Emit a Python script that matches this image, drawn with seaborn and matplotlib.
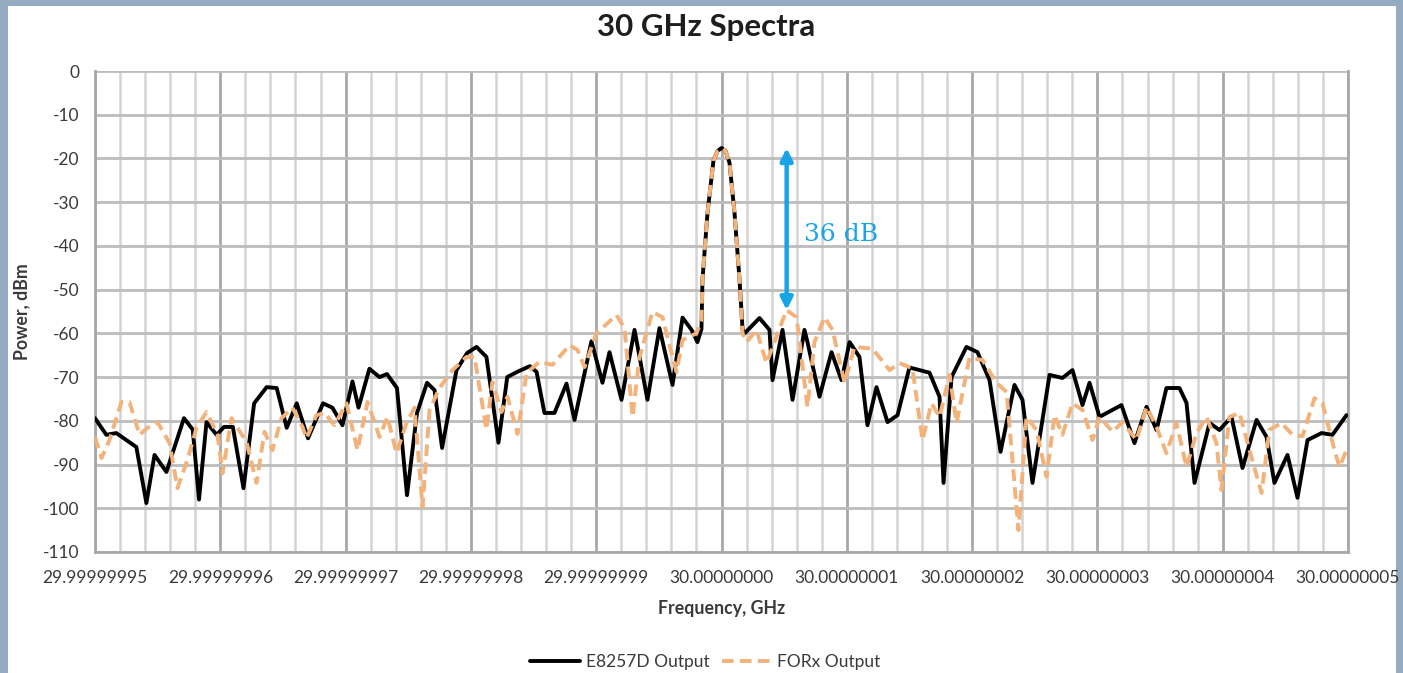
import numpy as np
import pandas as pd
import matplotlib
matplotlib.use("Agg")
import matplotlib.pyplot as plt
from matplotlib.patches import Rectangle
import seaborn as sns

# ---- data (frequency offset from 30 GHz in Hz, power in dBm) ----
e8257d_freq = [-50.0, -49.1, -48.3, -47.5, -46.7, -45.9, -45.25, -44.3, -42.9, -42.2, -41.7, -41.1,
               -40.3, -39.7, -39.0, -38.15, -37.3, -36.3, -35.5, -34.7, -33.9, -33.0, -31.8, -31.05,
               -30.25, -29.45, -28.97, -28.1, -27.3, -26.7, -25.9, -25.1, -24.3, -23.5, -22.9, -22.3,
               -21.15, -20.3, -19.55, -18.76, -17.8, -17.1, -16.3, -15.3, -14.76, -14.13, -13.33, -12.37,
               -11.73, -10.38, -9.5, -8.94, -7.98, -6.94, -5.91, -4.95, -3.91, -3.11, -2.39, -1.92,
               -1.6, -1.52, -1.12, -0.64, -0.32, 0.0, 0.32, 0.64, 1.04, 1.44, 1.68, 1.84, 3.03, 3.83,
               4.07, 4.87, 5.67, 6.62, 6.86, 7.82, 8.78, 9.58, 10.22, 11.01, 11.65, 12.37, 13.25, 14.05,
               15.0, 16.6, 17.4, 17.72, 18.36, 19.55, 20.43, 21.39, 22.27, 23.38, 24.02, 24.82, 26.18,
               27.21, 28.01, 28.81, 29.37, 30.17, 31.21, 31.92, 32.96, 33.92, 34.72, 35.51, 36.55,
               37.11, 37.75, 38.95, 39.74, 40.7, 41.58, 42.7, 43.5, 44.13, 45.17, 45.97, 46.77,
               47.89, 48.76, 49.88]
e8257d_power = [-79.4, -83.2, -82.8, -84.4, -86.0, -98.8, -87.8, -91.7, -79.4, -82.0, -98.0, -80.3,
                -83.2, -81.4, -81.4, -95.4, -76.0, -72.3, -72.5, -81.6, -76.0, -84.0, -76.0, -77.0,
                -81.0, -71.0, -77.0, -68.1, -70.0, -69.3, -72.5, -97.0, -78.2, -71.3, -73.0, -86.2,
                -68.4, -64.5, -63.1, -65.4, -85.0, -70.0, -68.8, -67.5, -68.8, -78.2, -78.2, -71.5,
                -79.8, -61.8, -71.3, -64.3, -75.2, -59.2, -75.2, -58.8, -71.8, -56.4, -59.2, -62.0,
                -59.0, -47.8, -32.5, -20.5, -18.3, -17.6, -18.3, -21.0, -32.5, -47.8, -59.0, -60.0,
                -56.5, -59.2, -70.7, -59.2, -75.2, -59.2, -62.0, -74.5, -64.3, -70.7, -62.0, -65.4,
                -81.0, -72.3, -80.3, -78.7, -67.8, -69.0, -74.5, -94.2, -70.0, -63.1, -64.3, -70.7,
                -87.1, -71.8, -75.2, -94.2, -69.5, -70.2, -68.4, -76.4, -71.3, -79.1, -77.5, -76.4,
                -85.1, -76.8, -82.1, -72.5, -72.5, -75.9, -94.2, -80.5, -82.1, -79.1, -90.8, -79.8,
                -83.7, -94.2, -87.8, -97.6, -84.4, -82.8, -83.2, -78.7]

forx_freq = [-50.0, -49.48, -48.84, -47.89, -47.25, -46.45, -45.81, -45.01, -44.05, -43.42, -42.62,
             -41.9, -41.1, -40.22, -39.82, -39.11, -38.63, -37.91, -37.11, -36.47, -35.83, -35.12,
             -34.24, -33.44, -33.12, -32.32, -31.68, -30.89, -29.93, -29.05, -28.25, -27.29, -26.66,
             -25.94, -25.14, -24.5, -23.86, -23.3, -22.51, -21.47, -20.35, -19.71, -18.76, -18.28,
             -17.56, -17.08, -16.28, -15.56, -14.53, -13.49, -12.13, -11.49, -10.93, -9.98, -8.38,
             -7.74, -7.1, -6.54, -5.51, -4.71, -3.91, -3.59, -3.11, -2.0, -1.6, -1.52, -1.12,
             -0.64, -0.32, 0.0, 0.32, 0.64, 1.04, 1.44, 1.68, 2.0, 2.79, 3.59, 5.19, 5.99, 6.86,
             7.42, 8.22, 8.86, 9.82, 10.61, 12.05, 13.41, 14.21, 15.24, 16.04, 16.76, 17.4, 18.2,
             18.76, 19.79, 20.83, 21.95, 22.75, 23.7, 24.34, 25.14, 25.94, 26.58, 27.21, 28.01,
             28.81, 29.61, 30.17, 31.21, 32.0, 33.12, 33.92, 34.72, 35.51, 36.31, 37.11, 37.91,
             38.71, 39.5, 39.9, 40.54, 41.34, 42.14, 43.1, 43.73, 44.69, 45.57, 46.37, 47.33,
             47.97, 48.92, 49.32, 49.88]
forx_power = [-83.7, -88.5, -84.4, -75.7, -75.7, -83.2, -81.6, -80.3, -85.1, -95.4, -88.9,
              -81.6, -78.0, -83.2, -92.0, -79.4, -81.6, -84.8, -94.2, -82.5, -86.7, -79.4,
              -77.0, -81.4, -84.0, -78.7, -78.2, -81.0, -76.0, -86.7, -75.7, -83.7, -79.1,
              -87.4, -80.5, -77.0, -99.7, -77.5, -72.5, -68.4, -65.4, -65.4, -82.0, -71.1,
              -78.0, -74.5, -83.0, -69.1, -66.5, -67.2, -62.7, -63.8, -67.7, -60.0, -55.8,
              -58.8, -79.1, -65.4, -55.1, -56.3, -65.4, -68.8, -61.5, -60.0, -57.0, -47.8, -32.5,
              -20.5, -18.3, -17.6, -18.3, -21.0, -32.5, -47.8, -60.0, -62.0, -59.2, -66.8, -54.7,
              -56.3, -76.8, -62.0, -56.3, -59.2, -71.3, -63.1, -63.5, -68.4, -66.8, -68.0, -84.4,
              -76.0, -79.1, -69.5, -80.5, -65.6, -66.1, -71.3, -73.4, -105.0, -79.1, -82.1, -92.8,
              -78.7, -83.2, -76.0, -77.5, -84.4, -79.1, -82.5, -80.3, -84.4, -76.8, -81.4, -87.4,
              -80.5, -90.6, -82.8, -79.1, -85.1, -95.8, -79.1, -78.2, -86.7, -96.5, -82.1, -80.5,
              -83.2, -83.5, -74.8, -76.0, -86.7, -90.6, -86.7]

x_ticks = [-50, -40, -30, -20, -10, 0, 10, 20, 30, 40, 50]
x_tick_labels = ["29.99999995", "29.99999996", "29.99999997", "29.99999998", "29.99999999",
                 "30.00000000", "30.00000001", "30.00000002", "30.00000003", "30.00000004",
                 "30.00000005"]
y_ticks = list(range(0, -111, -10))

series_names = ["E8257D Output", "FORx Output"]
annot_text = "36 dB"
annot_x = 5.2
annot_top = -17.6
annot_bottom = -54.7

# ---- figure ----
sns.set_theme(style="white")
plt.rcParams['font.family'] = ['Lato', 'DejaVu Sans']

fig = plt.figure(figsize=(14.03, 6.73), dpi=100, facecolor="#94abc1")
bg = Rectangle((8 / 1403, 0), (1396 - 8) / 1403, 1 - 6 / 673,
               transform=fig.transFigure, facecolor="white", edgecolor="none", zorder=-10)
fig.patches.append(bg)
ax = fig.add_axes([95 / 1403, 1 - 552 / 673, (1348 - 95) / 1403, (552 - 71) / 673])
ax.set_zorder(5)
ax.set_facecolor("white")

df1 = pd.DataFrame({"freq": e8257d_freq, "power": e8257d_power})
df2 = pd.DataFrame({"freq": forx_freq, "power": forx_power})

sns.lineplot(data=df1, x="freq", y="power", ax=ax, color="black", lw=2.8,
             label=series_names[0], zorder=3, sort=False)
sns.lineplot(data=df2, x="freq", y="power", ax=ax, color="#f2b27a", lw=2.8,
             label=series_names[1], zorder=4, sort=False)
ax.lines[0].set_solid_joinstyle("round")
ax.lines[1].set_dashes([3.0, 1.6])
ax.lines[1].set_dash_joinstyle("round")

ax.set_xlim(-50, 50)
ax.set_ylim(-110, 0)

# grid
ax.set_xticks(x_ticks)
ax.set_xticks(np.arange(-50, 51, 2), minor=True)
ax.set_yticks(y_ticks)
ax.grid(which="minor", axis="x", color="#d4d4d4", lw=1.8, zorder=0)
ax.grid(which="major", axis="x", color="#a8a8a8", lw=2.0, zorder=0)
ax.grid(which="major", axis="y", color="#bcbcbc", lw=2.0, zorder=0)
ax.set_axisbelow(True)

ax.set_xticklabels(x_tick_labels, fontsize=12.5, color="#3a3a3a")
ax.set_yticklabels([str(v) for v in y_ticks], fontsize=12.5, color="#3a3a3a")
ax.tick_params(axis="x", which="both", length=0, pad=13)
ax.tick_params(axis="y", which="major", length=7, width=2.0, color="#bcbcbc", pad=4)

ax.spines["top"].set_visible(False)
for side in ["left", "bottom", "right"]:
    ax.spines[side].set_color("#a8a8a8")
    ax.spines[side].set_linewidth(2.0)

ax.set_xlabel("Frequency, GHz", fontsize=12.8, fontweight="bold", color="#3a3a3a", labelpad=10)
ax.set_ylabel("Power, dBm", fontsize=12.8, fontweight="bold", color="#3a3a3a", labelpad=9)
fig.text(0.5035, 1 - 27 / 673, "30 GHz Spectra", ha="center", va="center",
         fontsize=22.5, fontweight="bold", color="#1e1e1e")

# annotation
ax.annotate("", xy=(annot_x, annot_top), xytext=(annot_x, annot_bottom),
            arrowprops=dict(arrowstyle="<|-|>", color="#18a5e8", lw=3.2,
                            mutation_scale=18, shrinkA=0, shrinkB=0), zorder=6)
ax.text(annot_x + 1.4, -37.5, annot_text, fontsize=18, color="#18a5e8",
        family=["DejaVu Serif"], va="center", ha="left", zorder=6)

leg = ax.legend(loc="center", ncol=2, frameon=False, fontsize=12.5, handlelength=2.85,
                columnspacing=0.7, handletextpad=0.35,
                bbox_to_anchor=((705.5 - 95) / 1253, -(662 - 552) / (552 - 71)),
                bbox_transform=ax.transAxes)
for t in leg.get_texts():
    t.set_color("#3a3a3a")

fig.savefig("out.png", dpi=100, facecolor=fig.get_facecolor())
